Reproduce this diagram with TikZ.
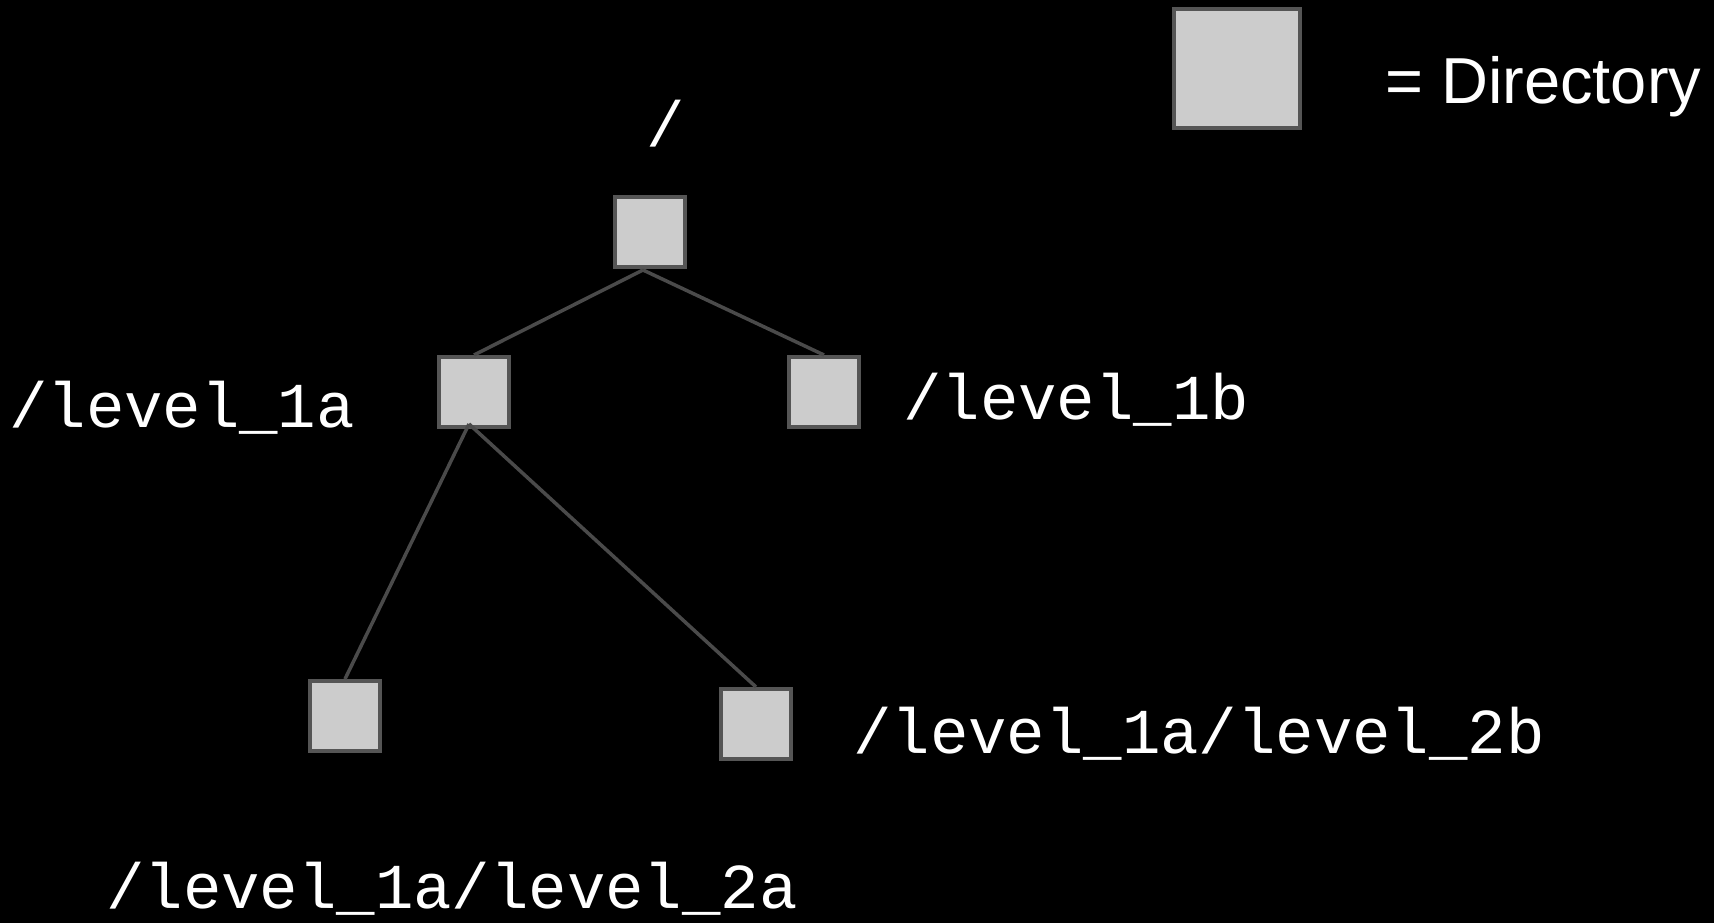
\documentclass[tikz,border=0pt]{standalone}
\usepackage{fontspec}
\newfontfamily\monof{Liberation Mono}
\newfontfamily\sansf{Liberation Sans}
\definecolor{boxfill}{HTML}{CCCCCC}
\definecolor{boxline}{HTML}{555555}
\definecolor{edgecol}{HTML}{4A4A4A}
\begin{document}
\begin{tikzpicture}[x=1pt,y=-1pt,
  dirbox/.style={draw=boxline,fill=boxfill,line width=4pt,minimum width=70pt,minimum height=70pt,inner sep=0pt,rectangle},
  edge/.style={draw=edgecol,line width=3.5pt},
  lbl/.style={anchor=base west,inner sep=0pt,text=white,font=\monof\fontsize{64}{70}\selectfont}]
\fill[black] (0,0) rectangle (1714,923);
\useasboundingbox (0,0) rectangle (1714,923);
% legend
\node[dirbox,minimum width=126pt,minimum height=119pt] (legend) at (1237,68.5) {};
\node[anchor=base west,inner sep=0pt,text=white,font=\sansf\fontsize{65}{72}\selectfont] (legendtxt) at (1385,104) {= Directory};
% directory boxes
\node[dirbox] (root) at (650,232) {};
\node[dirbox] (l1a) at (474,392) {};
\node[dirbox] (l1b) at (824,392) {};
\node[dirbox] (l2a) at (345,716) {};
\node[dirbox] (l2b) at (756,724) {};
% edge origins
\coordinate (rs) at (643,270);
\coordinate (as) at (469,424);
\draw[edge] (rs) -- (l1a.north);
\draw[edge] (rs) -- (l1b.north);
\draw[edge] (as) -- (l2a.north);
\draw[edge] (as) -- (l2b.north);
% labels
\node[lbl] (troot) at (646,147) {/};
\node[lbl] (t1a) at (9,427) {/level\_1a};
\node[lbl] (t1b) at (903,419) {/level\_1b};
\node[lbl] (t2b) at (853,753) {/level\_1a/level\_2b};
\node[lbl] (t2a) at (106,908) {/level\_1a/level\_2a};
\end{tikzpicture}
\end{document}
